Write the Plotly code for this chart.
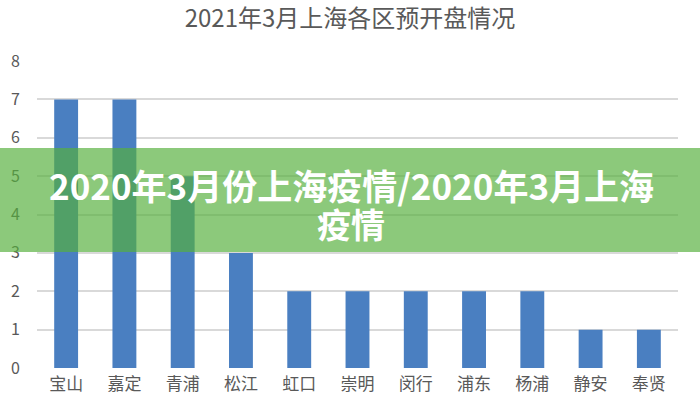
import plotly.graph_objects as go

districts = ["宝山", "嘉定", "青浦", "松江", "虹口", "崇明", "闵行", "浦东", "杨浦", "静安", "奉贤"]
counts = [7, 7, 5, 3, 2, 2, 2, 2, 2, 1, 1]
y_ticks = [0, 1, 2, 3, 4, 5, 6, 7, 8]
title_text = "2021年3月上海各区预开盘情况"
banner_line1 = "2020年3月份上海疫情/2020年3月上海"
banner_line2 = "疫情"

W, H = 700, 400
L, R, T, B = 37, 22, 61, 32
pw, ph = W - L - R, H - T - B

def px_x(x):
    return (x - L) / pw

def px_y(y):
    return (H - B - y) / ph

fig = go.Figure()
fig.add_trace(go.Bar(
    x=districts, y=counts,
    marker=dict(color="#4A7FC1", line=dict(width=0)),
    width=0.41,
))

fig.update_layout(
    width=W, height=H,
    margin=dict(l=L, r=R, t=T, b=B),
    paper_bgcolor="white", plot_bgcolor="white",
    showlegend=False,
    title=dict(text=title_text, x=0.5, xanchor="center", y=(H - 19) / H, yanchor="middle",
               font=dict(family="Noto Sans CJK SC", size=24, color="#595959")),
    font=dict(family="Noto Sans CJK SC"),
    xaxis=dict(showgrid=False, showline=False, zeroline=False, ticks="", automargin=False,
               ticklabelstandoff=4,
               tickfont=dict(size=17, color="#595959")),
    yaxis=dict(range=[0, 8], tickvals=y_ticks, showgrid=True, gridcolor="#D9D9D9",
               gridwidth=1.5, zeroline=False, showline=False, ticks="", automargin=False,
               ticklabelstandoff=16,
               tickfont=dict(size=16, color="#595959")),
    bargap=0.59,
)

fig.add_shape(type="rect", xref="paper", yref="paper",
              x0=px_x(-5), x1=px_x(705), y0=px_y(252), y1=px_y(148),
              fillcolor="rgba(85,175,60,0.68)", line=dict(width=0), layer="above")
fig.add_annotation(xref="paper", yref="paper", x=px_x(351), y=px_y(184), yanchor="middle",
                   text=banner_line1, showarrow=False,
                   font=dict(family="Noto Sans CJK SC", size=35, color="white", weight="bold"))
fig.add_annotation(xref="paper", yref="paper", x=px_x(351), y=px_y(223), yanchor="middle",
                   text=banner_line2, showarrow=False,
                   font=dict(family="Noto Sans CJK SC", size=34, color="white", weight="bold"))

fig.write_html("out.html", config={"displayModeBar": False},
               post_script="document.body.style.margin='0';")
